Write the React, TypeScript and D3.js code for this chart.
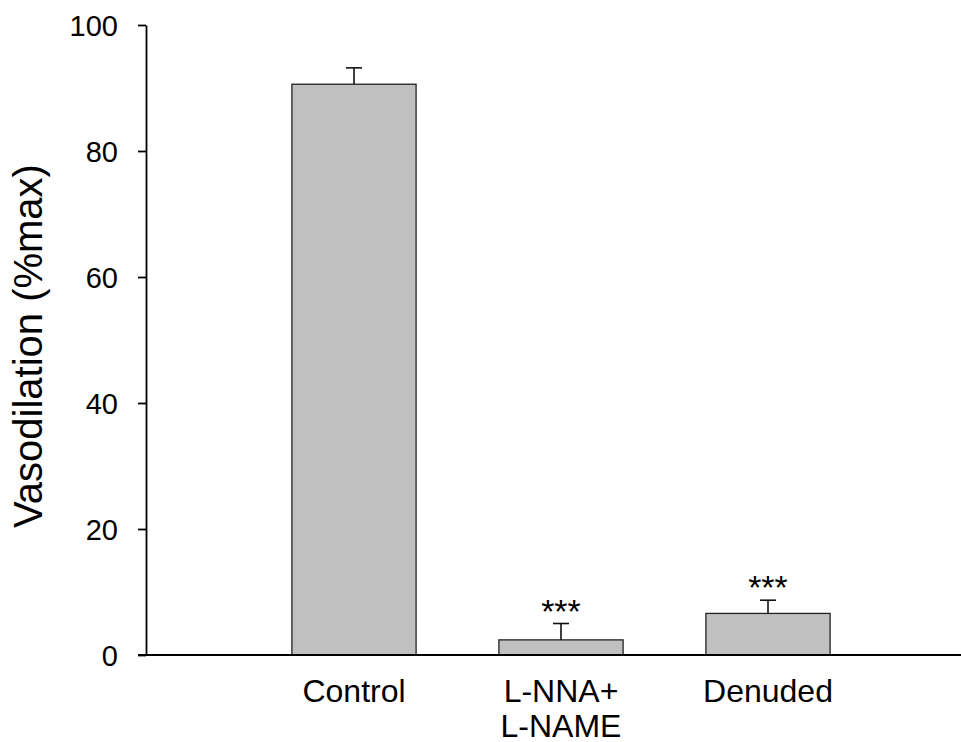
import React, { useEffect, useRef } from 'react';
import * as d3 from 'd3';

// group labels (\n = second line), means, upper error (SEM), significance marks
const categories = ['Control', 'L-NNA+\nL-NAME', 'Denuded'];
const means = [90.6, 2.4, 6.6];
const errors = [2.6, 2.6, 2.1];
const marks = ['', '***', '***'];
const yTicks = [0, 20, 40, 60, 80, 100];

const W = 961, H = 742;
const FONT = '"Liberation Sans", Arial, Helvetica, sans-serif';

export default function App() {
  const ref = useRef<SVGSVGElement>(null);

  useEffect(() => {
    const svg = d3.select(ref.current);
    svg.selectAll('*').remove();

    // x: slot positions 0..4, bars sit on 1,2,3
    const x = d3.scaleLinear().domain([0, 4]).range([147, 975]);
    const y = d3.scaleLinear().domain([0, 100]).range([655, 25]);
    const barW = (x(1) - x(0)) * 0.6;
    const capW = 16;

    const data = categories.map((c, i) => ({ c, m: means[i], e: errors[i], s: marks[i], pos: i + 1 }));

    // bars
    svg.append('g').selectAll('rect').data(data).join('rect')
      .attr('x', d => x(d.pos) - barW / 2)
      .attr('y', d => y(d.m))
      .attr('width', barW)
      .attr('height', d => y(0) - y(d.m))
      .attr('fill', '#c0c0c0')
      .attr('stroke', '#222')
      .attr('stroke-width', 1.3);

    // upper error whiskers
    const eb = svg.append('g').attr('stroke', '#111').attr('stroke-width', 1.6);
    eb.selectAll('line.v').data(data).join('line').attr('class', 'v')
      .attr('x1', d => x(d.pos)).attr('x2', d => x(d.pos))
      .attr('y1', d => y(d.m)).attr('y2', d => y(d.m + d.e));
    eb.selectAll('line.c').data(data).join('line').attr('class', 'c')
      .attr('x1', d => x(d.pos) - capW / 2).attr('x2', d => x(d.pos) + capW / 2)
      .attr('y1', d => y(d.m + d.e)).attr('y2', d => y(d.m + d.e));

    // significance stars
    svg.append('g').selectAll('text').data(data.filter(d => d.s)).join('text')
      .attr('x', d => x(d.pos))
      .attr('y', d => y(d.m + d.e) - 1)
      .attr('text-anchor', 'middle')
      .attr('font-family', FONT)
      .attr('font-size', 34)
      .text(d => d.s);

    // y axis
    const yAxis = svg.append('g')
      .attr('transform', `translate(146,0)`)
      .call(d3.axisLeft(y).tickValues(yTicks).tickSize(8).tickSizeOuter(0).tickPadding(20));
    yAxis.select('.domain').attr('stroke', '#000').attr('stroke-width', 1.8);
    yAxis.selectAll('.tick line').attr('stroke', '#000').attr('stroke-width', 1.8);
    yAxis.selectAll('.tick text')
      .attr('font-family', FONT).attr('font-size', 29).attr('fill', '#000').attr('dy', '0.35em');

    // x axis baseline
    svg.append('line')
      .attr('x1', 138).attr('x2', W)
      .attr('y1', y(0)).attr('y2', y(0))
      .attr('stroke', '#000').attr('stroke-width', 1.8);

    // category labels
    const lab = svg.append('g').selectAll('text').data(data).join('text')
      .attr('x', d => x(d.pos))
      .attr('y', 702)
      .attr('text-anchor', 'middle')
      .attr('font-family', FONT)
      .attr('font-size', 32)
      .attr('fill', '#000');
    lab.selectAll('tspan').data(d => d.c.split('\n').map(t => ({ t, x: x(d.pos) }))).join('tspan')
      .attr('x', t => t.x)
      .attr('dy', (t, i) => (i === 0 ? 0 : 35))
      .text(t => t.t);

    // y title
    svg.append('text')
      .attr('transform', `translate(42,${346}) rotate(-90)`)
      .attr('text-anchor', 'middle')
      .attr('font-family', FONT)
      .attr('font-size', 40)
      .attr('fill', '#000')
      .text('Vasodilation (%max)');
  }, []);

  return (
    <svg ref={ref} width={W} height={H}
      style={{ position: 'absolute', left: 0, top: 0, background: '#fff' }} />
  );
}
